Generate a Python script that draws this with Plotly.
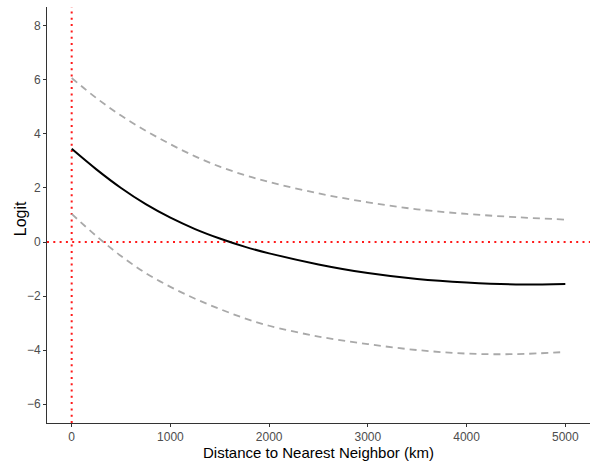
import plotly.graph_objects as go

# Data
distance_km = [0, 250, 500, 750, 1000, 1250, 1500, 1750, 2000, 2500, 3000, 3500, 4000, 4500, 5000]
logit_mean = [3.45, 2.69, 2.00, 1.40, 0.90, 0.48, 0.13, -0.17, -0.42, -0.83, -1.15, -1.37, -1.50, -1.57, -1.55]
logit_upper = [6.07, 5.33, 4.68, 4.12, 3.62, 3.17, 2.79, 2.48, 2.22, 1.80, 1.47, 1.21, 1.04, 0.92, 0.83]
logit_lower = [1.04, 0.22, -0.52, -1.15, -1.66, -2.10, -2.48, -2.82, -3.10, -3.50, -3.78, -4.00, -4.13, -4.15, -4.07]

x_ticks = [0, 1000, 2000, 3000, 4000, 5000]
y_ticks = [-6, -4, -2, 0, 2, 4, 6, 8]
x_range = [-250, 5250]
y_range = [-6.7, 8.7]
x_title = "Distance to Nearest Neighbor (km)"
y_title = "Logit"

FONT = "Liberation Sans, Arial, Helvetica, sans-serif"

fig = go.Figure()

# Reference lines
fig.add_shape(type="line", xref="x", yref="paper", x0=0, x1=0, y0=0, y1=1,
              line=dict(color="#ff1a1a", width=2, dash="2px,4.3px"), layer="below")
fig.add_shape(type="line", xref="paper", yref="y", x0=0, x1=1, y0=0, y1=0,
              line=dict(color="#ff1a1a", width=2, dash="2px,4.3px"), layer="below")

fig.add_trace(go.Scatter(x=distance_km, y=logit_upper, mode="lines",
                         line=dict(color="#a9a9a9", width=1.8, dash="7px,5px", shape="spline"),
                         showlegend=False, hoverinfo="skip"))
fig.add_trace(go.Scatter(x=distance_km, y=logit_lower, mode="lines",
                         line=dict(color="#a9a9a9", width=1.8, dash="7px,5px", shape="spline"),
                         showlegend=False, hoverinfo="skip"))
fig.add_trace(go.Scatter(x=distance_km, y=logit_mean, mode="lines",
                         line=dict(color="black", width=2, shape="spline"),
                         showlegend=False))

# Axis titles
fig.add_annotation(text=x_title, xref="paper", yref="paper", x=0.5, y=-0.07,
                   xanchor="center", yanchor="middle", showarrow=False,
                   font=dict(family=FONT, size=15, color="black"))
fig.add_annotation(text=y_title, xref="paper", yref="paper", x=-0.0497, y=0.49,
                   xanchor="center", yanchor="middle", showarrow=False, textangle=-90,
                   font=dict(family=FONT, size=16, color="black"))

fig.update_layout(
    width=595, height=462,
    margin=dict(l=47, r=5, t=7, b=39),
    plot_bgcolor="white", paper_bgcolor="white",
    font=dict(family=FONT, color="#4d4d4d", size=12),
)
fig.update_xaxes(
    range=x_range, tickvals=x_ticks, ticktext=[str(v) for v in x_ticks],
    showgrid=False, zeroline=False, showline=True, linecolor="#333333", linewidth=1,
    ticks="outside", ticklen=3, tickcolor="#333333", tickfont=dict(size=12, color="#4d4d4d"),
    automargin=False,
)
fig.update_yaxes(
    range=y_range, tickvals=y_ticks, ticktext=[("\u2212" + str(-v)) if v < 0 else str(v) for v in y_ticks],
    showgrid=False, zeroline=False, showline=True, linecolor="#333333", linewidth=1,
    ticks="outside", ticklen=3, tickcolor="#333333", tickfont=dict(size=12, color="#4d4d4d"),
    automargin=False,
)

fig.write_html("out.html", config={"displayModeBar": False},
               post_script="document.body.style.margin='0';document.body.style.overflow='hidden';")
